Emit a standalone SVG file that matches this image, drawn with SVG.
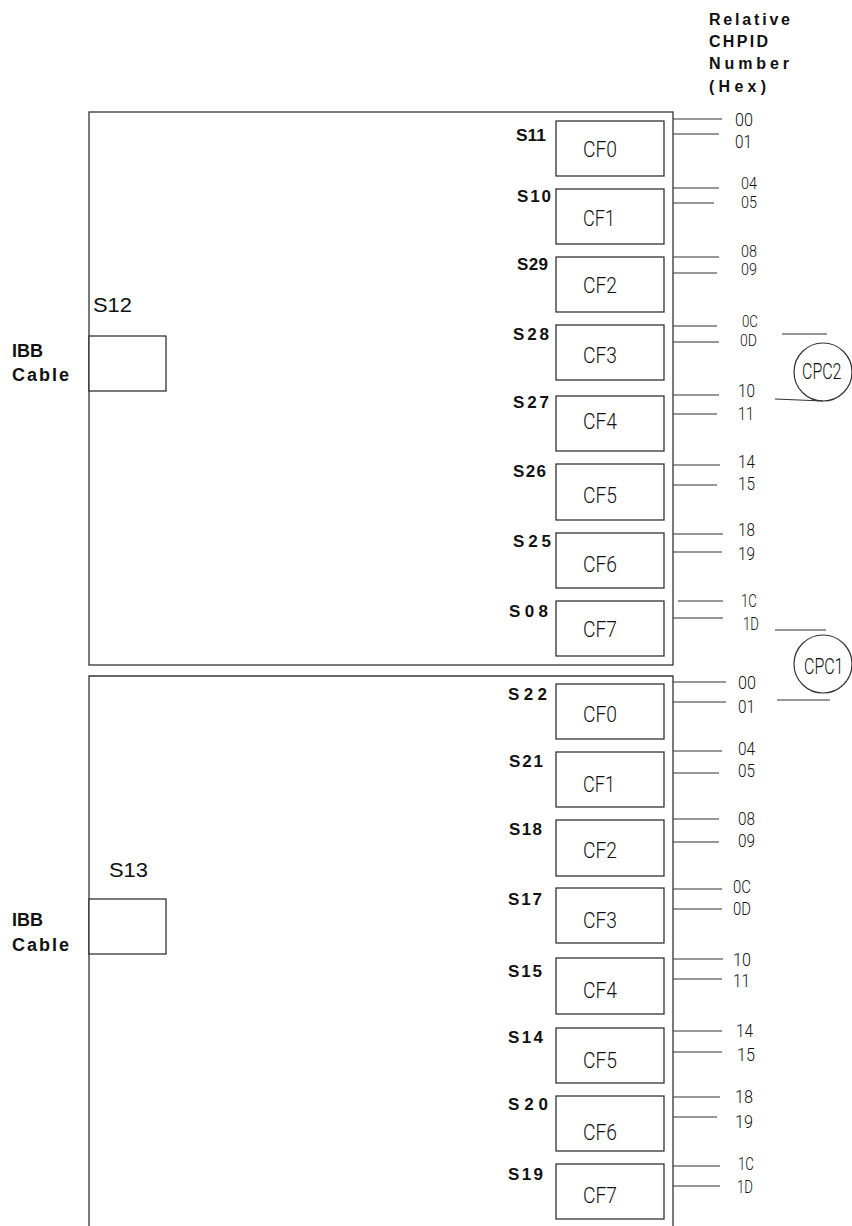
<svg xmlns="http://www.w3.org/2000/svg" width="852" height="1226" viewBox="0 0 852 1226">
<style>
.frame{fill:none;stroke:#333;stroke-width:1.3}
.cf{fill:#fff;stroke:#222;stroke-width:1.2}
.ln{stroke:#333;stroke-width:1.2;fill:none}
.b{font-family:"Liberation Sans",Arial,sans-serif;font-weight:bold;font-size:17px;fill:#111}
.h{font-family:"Liberation Sans",Arial,sans-serif;font-weight:bold;font-size:16px;fill:#111}
.r{font-family:"Liberation Sans",Arial,sans-serif;font-size:20px;fill:#111}
.t{font-family:Roboto,"DejaVu Sans",sans-serif;font-weight:300;font-size:22px;fill:#111}
.n{font-family:Roboto,"DejaVu Sans",sans-serif;font-weight:300;font-size:19px;fill:#111}
.s{font-size:16px}
.c{font-family:Roboto,"DejaVu Sans",sans-serif;font-weight:300;font-size:16px;fill:#111}
</style>
<rect width="852" height="1226" fill="#fff"/>
<g id="header">
<text class="h" x="709" y="25" textLength="81" lengthAdjust="spacing">Relative</text>
<text class="h" x="709" y="47" textLength="59" lengthAdjust="spacing">CHPID</text>
<text class="h" x="709" y="69" textLength="80" lengthAdjust="spacing">Number</text>
<text class="h" x="709" y="92" textLength="57" lengthAdjust="spacing">(Hex)</text>
</g>
<g id="book-top">
<rect class="frame" x="89" y="112" width="584" height="553"/>
<text class="r" x="93" y="312" textLength="39" lengthAdjust="spacingAndGlyphs">S12</text>
</g>
<g id="book-bottom">
<path class="frame" d="M89,1226 V676 H673 V1226"/>
<text class="r" x="109" y="877" textLength="39" lengthAdjust="spacingAndGlyphs">S13</text>
</g>
<g id="ibb-top">
<rect class="cf" x="89" y="336" width="77" height="55"/>
<text class="h" x="12" y="357" textLength="31" lengthAdjust="spacing" style="font-size:18px">IBB</text>
<text class="h" x="12" y="381" textLength="57" lengthAdjust="spacing" style="font-size:18px">Cable</text>
</g>
<g id="ibb-bottom">
<rect class="cf" x="89" y="899" width="77" height="55"/>
<text class="h" x="12" y="926" textLength="31" lengthAdjust="spacing" style="font-size:18px">IBB</text>
<text class="h" x="12" y="951" textLength="57" lengthAdjust="spacing" style="font-size:18px">Cable</text>
</g>
<g id="top-cf0"><rect class="cf" x="556" y="121" width="108" height="55"/><text class="b" x="516" y="141" textLength="30" lengthAdjust="spacingAndGlyphs">S11</text><text class="t" x="583" y="157" textLength="34" lengthAdjust="spacingAndGlyphs">CF0</text></g>
<g id="top-cf1"><rect class="cf" x="556" y="189" width="108" height="55"/><text class="b" x="517" y="202" textLength="34" lengthAdjust="spacing">S10</text><text class="t" x="583" y="226" textLength="32" lengthAdjust="spacingAndGlyphs">CF1</text></g>
<g id="top-cf2"><rect class="cf" x="556" y="257" width="108" height="55"/><text class="b" x="517" y="270" textLength="31" lengthAdjust="spacing">S29</text><text class="t" x="583" y="293" textLength="34" lengthAdjust="spacingAndGlyphs">CF2</text></g>
<g id="top-cf3"><rect class="cf" x="556" y="325" width="108" height="55"/><text class="b" x="513" y="340" textLength="36" lengthAdjust="spacing">S28</text><text class="t" x="583" y="363" textLength="34" lengthAdjust="spacingAndGlyphs">CF3</text></g>
<g id="top-cf4"><rect class="cf" x="556" y="396" width="108" height="55"/><text class="b" x="513" y="408" textLength="36" lengthAdjust="spacing">S27</text><text class="t" x="583" y="429" textLength="34" lengthAdjust="spacingAndGlyphs">CF4</text></g>
<g id="top-cf5"><rect class="cf" x="556" y="464" width="108" height="56"/><text class="b" x="513" y="477" textLength="33" lengthAdjust="spacing">S26</text><text class="t" x="583" y="503" textLength="34" lengthAdjust="spacingAndGlyphs">CF5</text></g>
<g id="top-cf6"><rect class="cf" x="556" y="533" width="108" height="55"/><text class="b" x="513" y="547" textLength="38" lengthAdjust="spacing">S25</text><text class="t" x="583" y="572" textLength="34" lengthAdjust="spacingAndGlyphs">CF6</text></g>
<g id="top-cf7"><rect class="cf" x="556" y="601" width="108" height="55"/><text class="b" x="509" y="617" textLength="39" lengthAdjust="spacing">S08</text><text class="t" x="583" y="637" textLength="34" lengthAdjust="spacingAndGlyphs">CF7</text></g>
<g id="bot-cf0"><rect class="cf" x="556" y="684" width="108" height="55"/><text class="b" x="508" y="700" textLength="39" lengthAdjust="spacing">S22</text><text class="t" x="583" y="722" textLength="34" lengthAdjust="spacingAndGlyphs">CF0</text></g>
<g id="bot-cf1"><rect class="cf" x="556" y="752" width="108" height="55"/><text class="b" x="509" y="767" textLength="34" lengthAdjust="spacing">S21</text><text class="t" x="583" y="792" textLength="32" lengthAdjust="spacingAndGlyphs">CF1</text></g>
<g id="bot-cf2"><rect class="cf" x="556" y="820" width="108" height="56"/><text class="b" x="509" y="835" textLength="33" lengthAdjust="spacing">S18</text><text class="t" x="583" y="858" textLength="34" lengthAdjust="spacingAndGlyphs">CF2</text></g>
<g id="bot-cf3"><rect class="cf" x="556" y="888" width="108" height="55"/><text class="b" x="508" y="905" textLength="34" lengthAdjust="spacing">S17</text><text class="t" x="583" y="928" textLength="34" lengthAdjust="spacingAndGlyphs">CF3</text></g>
<g id="bot-cf4"><rect class="cf" x="556" y="958" width="108" height="56"/><text class="b" x="508" y="977" textLength="34" lengthAdjust="spacing">S15</text><text class="t" x="583" y="998" textLength="34" lengthAdjust="spacingAndGlyphs">CF4</text></g>
<g id="bot-cf5"><rect class="cf" x="556" y="1028" width="108" height="55"/><text class="b" x="508" y="1043" textLength="35" lengthAdjust="spacing">S14</text><text class="t" x="583" y="1068" textLength="34" lengthAdjust="spacingAndGlyphs">CF5</text></g>
<g id="bot-cf6"><rect class="cf" x="556" y="1096" width="108" height="55"/><text class="b" x="508" y="1110" textLength="40" lengthAdjust="spacing">S20</text><text class="t" x="583" y="1140" textLength="34" lengthAdjust="spacingAndGlyphs">CF6</text></g>
<g id="bot-cf7"><rect class="cf" x="556" y="1164" width="108" height="55"/><text class="b" x="508" y="1180" textLength="35" lengthAdjust="spacing">S19</text><text class="t" x="583" y="1203" textLength="34" lengthAdjust="spacingAndGlyphs">CF7</text></g>
<g id="cpc2">
<circle class="ln" cx="823" cy="372" r="29"/>
<text class="c" transform="translate(802,379) scale(1,1.4)">CPC2</text>
</g>
<g id="cpc1">
<circle class="ln" cx="823" cy="664" r="29"/>
<text class="c" transform="translate(804,674) scale(1,1.4)">CPC1</text>
</g>
<g id="connectors">
<path class="ln" d="M673,119H722 M673,134H719 M673,188H719 M673,203H714 M673,257H719 M673,273H717 M673,326H717 M673,342H719 M673,395H719 M673,414H717 M673,465H720 M673,485H717 M673,534H723 M673,552H722 M678,601H723 M673,618H723"/>
<path class="ln" d="M673,682H726 M673,702H726 M673,751H722 M673,773H719 M673,819H719 M673,842H719 M673,889H722 M673,909H722 M673,959H723 M673,979H722 M673,1031H722 M673,1052H722 M673,1097H720 M673,1117H717 M673,1166H720 M673,1186H720"/>
<path class="ln" d="M782,334H827 M775,399L823,401 M775,630H826 M777,700H830"/>
</g>
<g id="chpid-numbers">
<text class="n" x="735" y="126" textLength="18" lengthAdjust="spacingAndGlyphs">00</text>
<text class="n" x="735" y="148" textLength="17" lengthAdjust="spacingAndGlyphs">01</text>
<text class="n s" x="741" y="189" textLength="16" lengthAdjust="spacingAndGlyphs">04</text>
<text class="n s" x="741" y="208" textLength="16" lengthAdjust="spacingAndGlyphs">05</text>
<text class="n s" x="741" y="257" textLength="16" lengthAdjust="spacingAndGlyphs">08</text>
<text class="n s" x="741" y="275" textLength="16" lengthAdjust="spacingAndGlyphs">09</text>
<text class="n s" x="742" y="327" textLength="16" lengthAdjust="spacingAndGlyphs">0C</text>
<text class="n s" x="740" y="346" textLength="17" lengthAdjust="spacingAndGlyphs">0D</text>
<text class="n" x="738" y="397" textLength="17" lengthAdjust="spacingAndGlyphs">10</text>
<text class="n" x="738" y="420" textLength="16" lengthAdjust="spacingAndGlyphs">11</text>
<text class="n" x="738" y="468" textLength="17" lengthAdjust="spacingAndGlyphs">14</text>
<text class="n" x="738" y="490" textLength="17" lengthAdjust="spacingAndGlyphs">15</text>
<text class="n" x="738" y="536" textLength="17" lengthAdjust="spacingAndGlyphs">18</text>
<text class="n" x="738" y="560" textLength="17" lengthAdjust="spacingAndGlyphs">19</text>
<text class="n" x="741" y="607" textLength="16" lengthAdjust="spacingAndGlyphs">1C</text>
<text class="n" x="743" y="630" textLength="16" lengthAdjust="spacingAndGlyphs">1D</text>
<text class="n" x="738" y="689" textLength="18" lengthAdjust="spacingAndGlyphs">00</text>
<text class="n" x="738" y="713" textLength="17" lengthAdjust="spacingAndGlyphs">01</text>
<text class="n" x="738" y="755" textLength="17" lengthAdjust="spacingAndGlyphs">04</text>
<text class="n" x="738" y="777" textLength="17" lengthAdjust="spacingAndGlyphs">05</text>
<text class="n" x="738" y="825" textLength="17" lengthAdjust="spacingAndGlyphs">08</text>
<text class="n" x="738" y="847" textLength="17" lengthAdjust="spacingAndGlyphs">09</text>
<text class="n" x="733" y="893" textLength="18" lengthAdjust="spacingAndGlyphs">0C</text>
<text class="n" x="733" y="915" textLength="18" lengthAdjust="spacingAndGlyphs">0D</text>
<text class="n" x="733" y="966" textLength="18" lengthAdjust="spacingAndGlyphs">10</text>
<text class="n" x="733" y="987" textLength="17" lengthAdjust="spacingAndGlyphs">11</text>
<text class="n" x="736" y="1037" textLength="17" lengthAdjust="spacingAndGlyphs">14</text>
<text class="n" x="737" y="1061" textLength="18" lengthAdjust="spacingAndGlyphs">15</text>
<text class="n" x="735" y="1103" textLength="18" lengthAdjust="spacingAndGlyphs">18</text>
<text class="n" x="735" y="1128" textLength="18" lengthAdjust="spacingAndGlyphs">19</text>
<text class="n" x="738" y="1170" textLength="16" lengthAdjust="spacingAndGlyphs">1C</text>
<text class="n" x="737" y="1193" textLength="16" lengthAdjust="spacingAndGlyphs">1D</text>
</g>
</svg>
